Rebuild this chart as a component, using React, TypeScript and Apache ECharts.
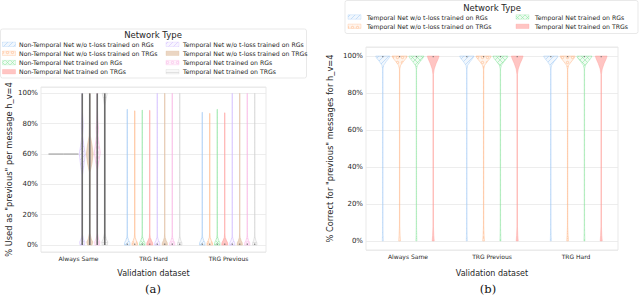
import { useEffect, useRef } from "react";
import * as echarts from "echarts";

type Prof = [number, number][];
type Box = [number, number] | null;

const categoriesA = ["Always Same", "TRG Hard", "TRG Previous"];
const categoriesB = ["Always Same", "TRG Previous", "TRG Hard"];
const yTicks = [0, 20, 40, 60, 80, 100];

const seriesA = [
  "Non-Temporal Net w/o t-loss trained on RGs",
  "Non-Temporal Net w/o t-loss trained on TRGs",
  "Non-Temporal Net trained on RGs",
  "Non-Temporal Net trained on TRGs",
  "Temporal Net w/o t-loss trained on RGs",
  "Temporal Net w/o t-loss trained on TRGs",
  "Temporal Net trained on RGs",
  "Temporal Net trained on TRGs",
];
const seriesB = [
  "Temporal Net w/o t-loss trained on RGs",
  "Temporal Net w/o t-loss trained on TRGs",
  "Temporal Net trained on RGs",
  "Temporal Net trained on TRGs",
];

const colorsA = ["#a1c9f4", "#ffb482", "#8de5a1", "#ff9f9b", "#d0bbff", "#debb9b", "#fab0e4", "#cfcfcf"];
const hatchA = ["/", "o", "x", "solid", "/", "solid", "o", "-"];
const colorsB = ["#a1c9f4", "#ffb482", "#8de5a1", "#ff9f9b"];
const hatchB = ["/", "o", "x", "solid"];

// violin profiles: [value %, relative half width]
const profA: Prof[][] = [
  [
    [[60, 1]],
    [[0, 0.75], [1.5, 0.7], [3, 0.4], [5, 0.12], [8, 0.03], [89.5, 0.03]],
    [[0, 0.75], [1.5, 0.7], [3, 0.4], [5, 0.12], [8, 0.03], [87.5, 0.03]],
  ],
  [
    [[60, 1]],
    [[0, 0.75], [1.5, 0.7], [3, 0.4], [5, 0.12], [8, 0.03], [88.5, 0.03]],
    [[0, 0.75], [1.5, 0.7], [3, 0.4], [5, 0.12], [8, 0.03], [86.8, 0.03]],
  ],
  [
    [[60, 1]],
    [[0, 0.75], [1.5, 0.7], [3, 0.4], [5, 0.12], [8, 0.03], [89, 0.03]],
    [[0, 0.75], [1.5, 0.7], [3, 0.4], [5, 0.12], [8, 0.03], [89.5, 0.03]],
  ],
  [
    [[60, 1]],
    [[0, 0.8], [1.5, 0.75], [3, 0.45], [5, 0.12], [8, 0.03], [88.8, 0.03]],
    [[0, 0.8], [1.5, 0.75], [3, 0.45], [5, 0.12], [8, 0.03], [87.2, 0.03]],
  ],
  [
    [[0, 0.6], [2, 0.7], [4, 0.3], [7, 0.05], [46, 0.05], [52, 0.4], [60, 0.8], [66, 0.4], [72, 0.1], [78, 0.25], [82, 0.2], [88, 0.05], [100, 0.05]],
    [[0, 0.7], [1.5, 0.65], [3, 0.35], [5, 0.1], [8, 0.03], [100, 0.03]],
    [[0, 0.7], [1.5, 0.65], [3, 0.35], [5, 0.1], [8, 0.03], [100, 0.03]],
  ],
  [
    [[0, 0.6], [2, 0.8], [4, 0.4], [8, 0.05], [48, 0.1], [54, 0.6], [60, 0.9], [66, 0.6], [72, 0.15], [80, 0.1], [100, 0.05]],
    [[0, 0.7], [1.5, 0.65], [3, 0.35], [5, 0.1], [8, 0.03], [100, 0.03]],
    [[0, 0.7], [1.5, 0.65], [3, 0.35], [5, 0.1], [8, 0.03], [100, 0.03]],
  ],
  [
    [[0, 0.6], [2, 0.7], [4, 0.3], [8, 0.05], [50, 0.1], [56, 0.5], [61, 0.8], [66, 0.5], [72, 0.2], [77, 0.3], [82, 0.15], [90, 0.05], [100, 0.05]],
    [[0, 0.7], [1.5, 0.65], [3, 0.35], [5, 0.1], [8, 0.03], [100, 0.03]],
    [[0, 0.7], [1.5, 0.65], [3, 0.35], [5, 0.1], [8, 0.03], [100, 0.03]],
  ],
  [
    [[0, 0.7], [2, 0.8], [4, 0.4], [8, 0.05], [92, 0.05], [97, 0.4], [100, 0.7]],
    [[0, 0.6], [1.5, 0.55], [3, 0.3], [5, 0.1], [8, 0.03], [100, 0.03]],
    [[0, 0.6], [1.5, 0.55], [3, 0.3], [5, 0.1], [8, 0.03], [100, 0.03]],
  ],
];

// inner box extent [low, high]
const boxA: Box[][] = [
  [null, [0, 1], [0, 1]],
  [null, [0, 1], [0, 1]],
  [null, [0, 1], [0, 1]],
  [null, [0, 1], [0, 1]],
  [[0, 100], [0, 1], [0, 1]],
  [[0, 100], [0, 1], [0, 1]],
  [[0, 100], [0, 1], [0, 1]],
  [[0, 100], [0, 1], [0, 1]],
];

const profB: Prof[][] = [
  [
    [[0, 0.06], [3, 0.04], [8, 0.02], [93, 0.02], [95, 0.1], [97, 0.4], [99, 0.75], [100, 0.85]],
    [[0, 0.06], [3, 0.04], [8, 0.02], [93, 0.02], [95, 0.1], [97, 0.4], [99, 0.75], [100, 0.85]],
    [[0, 0.06], [3, 0.04], [8, 0.02], [93, 0.02], [95, 0.1], [97, 0.4], [99, 0.75], [100, 0.85]],
  ],
  [
    [[0, 0.1], [3, 0.06], [8, 0.02], [93, 0.02], [95, 0.12], [97, 0.45], [99, 0.8], [100, 0.9]],
    [[0, 0.1], [3, 0.06], [8, 0.02], [93, 0.02], [95, 0.12], [97, 0.45], [99, 0.8], [100, 0.9]],
    [[0, 0.1], [3, 0.06], [8, 0.02], [93, 0.02], [95, 0.12], [97, 0.45], [99, 0.8], [100, 0.9]],
  ],
  [
    [[0, 0.06], [3, 0.04], [8, 0.02], [93, 0.02], [95, 0.12], [97, 0.45], [99, 0.8], [100, 0.9]],
    [[0, 0.06], [3, 0.04], [8, 0.02], [93, 0.02], [95, 0.12], [97, 0.45], [99, 0.8], [100, 0.9]],
    [[0, 0.06], [3, 0.04], [8, 0.02], [93, 0.02], [95, 0.12], [97, 0.45], [99, 0.8], [100, 0.9]],
  ],
  [
    [[0, 0.12], [3, 0.07], [8, 0.03], [90, 0.03], [93, 0.12], [96, 0.35], [98.5, 0.6], [100, 0.7]],
    [[0, 0.12], [3, 0.07], [8, 0.03], [90, 0.03], [93, 0.12], [96, 0.35], [98.5, 0.6], [100, 0.7]],
    [[0, 0.12], [3, 0.07], [8, 0.03], [90, 0.03], [93, 0.12], [96, 0.35], [98.5, 0.6], [100, 0.7]],
  ],
];
const boxB: Box[][] = [
  [[99.4, 100], [99.4, 100], [99.4, 100]],
  [[99.4, 100], [99.4, 100], [99.4, 100]],
  [[99.4, 100], [99.4, 100], [99.4, 100]],
  [[99.4, 100], [99.4, 100], [99.4, 100]],
];

const FONT = "DejaVu Sans";

function rgba(hex: string, a: number) {
  const n = parseInt(hex.slice(1), 16);
  return `rgba(${(n >> 16) & 255},${(n >> 8) & 255},${n & 255},${a})`;
}

function makePattern(kind: string, color: string) {
  const s = 5;
  const c = document.createElement("canvas");
  c.width = s;
  c.height = s;
  const g = c.getContext("2d")!;
  g.fillStyle = rgba(color, kind === "solid" ? 0.6 : 0.15);
  g.fillRect(0, 0, s, s);
  g.strokeStyle = rgba(color, 0.7);
  g.lineWidth = 0.8;
  if (kind === "/" || kind === "x") {
    g.beginPath();
    g.moveTo(0, s); g.lineTo(s, 0);
    g.moveTo(-1, 1); g.lineTo(1, -1);
    g.moveTo(s - 1, s + 1); g.lineTo(s + 1, s - 1);
    g.stroke();
  }
  if (kind === "x") {
    g.beginPath();
    g.moveTo(0, 0); g.lineTo(s, s);
    g.moveTo(s - 1, -1); g.lineTo(s + 1, 1);
    g.moveTo(-1, s - 1); g.lineTo(1, s + 1);
    g.stroke();
  }
  if (kind === "o") {
    g.beginPath();
    g.arc(2.5, 2.5, 1.2, 0, Math.PI * 2);
    g.stroke();
  }
  if (kind === "-") {
    g.beginPath();
    g.moveTo(0, 2.5); g.lineTo(s, 2.5);
    g.stroke();
  }
  return { image: c, repeat: "repeat", imageWidth: s, imageHeight: s } as any;
}

function makeRender(profiles: Prof[][], boxes: Box[][], sIdx: number, nS: number, fill: any, stroke: string) {
  return (_params: any, api: any) => {
    const cat = api.value(0) as number;
    const prof = profiles[sIdx][cat];
    const band = api.size([1, 0])[0];
    const center = api.coord([cat, 0])[0];
    const slot = (band * 0.8) / nS;
    const cx = center - band * 0.4 + slot * (sIdx + 0.5);
    const half = slot / 2;
    const children: any[] = [];
    if (prof.length === 1) {
      const y = api.coord([cat, prof[0][0]])[1];
      children.push({
        type: "line",
        shape: { x1: cx - half * prof[0][1], y1: y, x2: cx + half * prof[0][1], y2: y },
        style: { stroke: "#939393", lineWidth: 1 },
      });
    } else {
      const right = prof.map(([v, w]) => [cx + half * w, api.coord([cat, v])[1]]);
      const left = prof.slice().reverse().map(([v, w]) => [cx - half * w, api.coord([cat, v])[1]]);
      children.push({
        type: "polygon",
        shape: { points: right.concat(left) },
        style: { fill, stroke, lineWidth: 0.9 },
      });
    }
    const b = boxes[sIdx][cat];
    if (b) {
      const y1 = api.coord([cat, b[0]])[1];
      const y2 = api.coord([cat, b[1]])[1];
      const long = Math.abs(y1 - y2) > 20;
      children.push({
        type: "line",
        shape: { x1: cx, y1, x2: cx, y2 },
        style: { stroke: long ? "#6b6b6b" : "#777777", lineWidth: long ? 1.6 : 1.1 },
      });
    }
    return { type: "group", children };
  };
}

function legendGraphics(
  box: { x: number; y: number; w: number; h: number },
  title: { x: number; y: number },
  names: string[],
  fills: any[],
  colors: string[],
  cols: { sx: number; tx: number }[],
  rows: number[],
) {
  const els: any[] = [
    {
      type: "rect",
      shape: { x: box.x, y: box.y, width: box.w, height: box.h, r: 2 },
      style: { fill: "rgba(255,255,255,0.9)", stroke: "#e3e3e3", lineWidth: 0.8 },
      z: 10,
    },
    {
      type: "text",
      x: title.x,
      y: title.y,
      style: { text: "Network Type", fontFamily: FONT, fontSize: 8.5, fill: "#262626", align: "center", verticalAlign: "middle" },
      z: 11,
    },
  ];
  const nRows = rows.length;
  names.forEach((name, i) => {
    const col = cols[Math.floor(i / nRows)];
    const ry = rows[i % nRows];
    els.push({
      type: "rect",
      shape: { x: col.sx, y: ry - 2.2, width: 13, height: 4.4 },
      style: { fill: fills[i], stroke: rgba(colors[i], 0.6), lineWidth: 0.5 },
      z: 11,
    });
    els.push({
      type: "text",
      x: col.tx,
      y: ry,
      style: { text: name, fontFamily: FONT, fontSize: 6.2, fill: "#262626", align: "left", verticalAlign: "middle" },
      z: 11,
    });
  });
  return els;
}

export default function App() {
  const ref = useRef<HTMLDivElement>(null);
  useEffect(() => {
    if (!ref.current) return;
    const chart = echarts.init(ref.current, undefined, { renderer: "svg" });
    const fillsA = colorsA.map((c, i) => makePattern(hatchA[i], c));
    const fillsB = colorsB.map((c, i) => makePattern(hatchB[i], c));

    const yAxisCommon = (min: number, max: number, name: string, gap: number, idx: number) => ({
      type: "value",
      gridIndex: idx,
      min,
      max,
      minInterval: 20,
      maxInterval: 20,
      name,
      nameLocation: "middle",
      nameGap: gap,
      nameRotate: 90,
      nameTextStyle: { fontFamily: FONT, fontSize: 8.3, color: "#262626" },
      axisLine: { show: false },
      axisTick: { show: false },
      axisLabel: {
        fontFamily: FONT,
        fontSize: 7,
        color: "#262626",
        margin: 3,
        showMinLabel: false,
        showMaxLabel: false,
        formatter: (v: number) => (yTicks.includes(v) ? `${v}%` : ""),
      },
      splitLine: { show: true, lineStyle: { color: "#e8e8e8", width: 0.8 } },
    });
    const xAxisCommon = (cats: string[], gap: number, idx: number) => ({
      type: "category",
      gridIndex: idx,
      data: cats,
      name: "Validation dataset",
      nameLocation: "middle",
      nameGap: gap,
      nameTextStyle: { fontFamily: FONT, fontSize: 8, color: "#262626" },
      axisLine: { show: false },
      axisTick: { show: false },
      axisLabel: { fontFamily: FONT, fontSize: 6, color: "#262626", margin: 3 },
      splitLine: { show: false },
    });

    const series: any[] = [];
    seriesA.forEach((name, s) => {
      series.push({
        type: "custom",
        name,
        xAxisIndex: 0,
        yAxisIndex: 0,
        renderItem: makeRender(profA, boxA, s, seriesA.length, fillsA[s], rgba(colorsA[s], 0.6)),
        encode: { x: 0, y: 1 },
        data: categoriesA.map((_, i) => [i, Math.max(...profA[s][i].map((p) => p[0]))]),
      });
    });
    seriesB.forEach((name, s) => {
      series.push({
        type: "custom",
        name,
        xAxisIndex: 1,
        yAxisIndex: 1,
        renderItem: makeRender(profB, boxB, s, seriesB.length, fillsB[s], rgba(colorsB[s], 0.5)),
        encode: { x: 0, y: 1 },
        data: categoriesB.map((_, i) => [i, Math.max(...profB[s][i].map((p) => p[0]))]),
      });
    });

    const graphics: any[] = [
      ...legendGraphics(
        { x: 0.5, y: 29, w: 306, h: 49 },
        { x: 153, y: 35 },
        seriesA,
        fillsA,
        colorsA,
        [{ sx: 2.5, tx: 19 }, { sx: 166, tx: 183 }],
        [44.3, 53.3, 62.6, 71.7],
      ),
      ...legendGraphics(
        { x: 345, y: 0.5, w: 293, h: 33 },
        { x: 492, y: 7.5 },
        seriesB,
        fillsB,
        colorsB,
        [{ sx: 348, tx: 367 }, { sx: 516, tx: 535 }],
        [17, 26.3],
      ),
      {
        type: "text",
        x: 153,
        y: 289,
        style: { text: "(a)", fontFamily: "DejaVu Serif", fontSize: 11.5, fill: "#111", align: "center", verticalAlign: "middle" },
      },
      {
        type: "text",
        x: 488,
        y: 289,
        style: { text: "(b)", fontFamily: "DejaVu Serif", fontSize: 11.5, fill: "#111", align: "center", verticalAlign: "middle" },
      },
    ];

    chart.setOption({
      animation: false,
      backgroundColor: "#ffffff",
      grid: [
        { left: 41, top: 87, width: 225, height: 165, show: true, borderColor: "#e3e3e3", borderWidth: 0.8, backgroundColor: "transparent" },
        { left: 366, top: 47, width: 252, height: 203, show: true, borderColor: "#e3e3e3", borderWidth: 0.8, backgroundColor: "transparent" },
      ],
      xAxis: [xAxisCommon(categoriesA, 17, 0), xAxisCommon(categoriesB, 19, 1)],
      yAxis: [
        yAxisCommon(-4.6, 104.2, '% Used as "previous" per message h_v=4', 28, 0),
        yAxisCommon(-4.9, 104.9, '% Correct for "previous" messages for h_v=4', 32, 1),
      ],
      series,
      graphic: graphics,
    });
    return () => chart.dispose();
  }, []);
  return <div ref={ref} style={{ position: "fixed", left: 0, top: 0, width: 640, height: 295 }} />;
}
